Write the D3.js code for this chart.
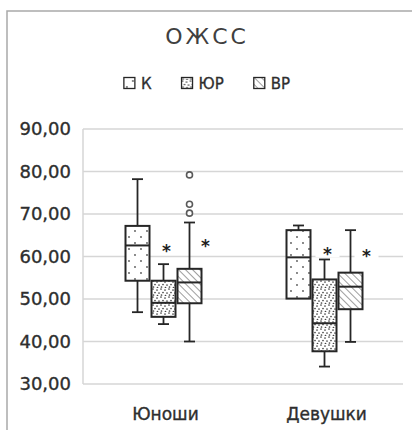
<!DOCTYPE html>
<html>
<head>
<meta charset="utf-8">
<script src="https://cdn.jsdelivr.net/npm/d3@7"></script>
<style>
  html, body { margin: 0; padding: 0; background: #fff; }
  svg { display: block; }
</style>
</head>
<body>
<svg id="chart" width="412" height="430"></svg>
<script>
// ---- data ----
const categories = ["Юноши", "Девушки"];
const series = ["К", "ЮР", "ВР"];
const yTicks = [30, 40, 50, 60, 70, 80, 90];

// five-number summaries, one value per category
const whiskerLow  = { "К": [46.9, 50.1], "ЮР": [44.1, 34.1], "ВР": [40.0, 39.9] };
const quartile1   = { "К": [54.3, 50.1], "ЮР": [45.8, 37.7], "ВР": [49.0, 47.6] };
const medians     = { "К": [62.6, 59.8], "ЮР": [49.1, 44.3], "ВР": [53.9, 52.9] };
const quartile3   = { "К": [67.2, 66.2], "ЮР": [54.3, 54.6], "ВР": [57.1, 56.2] };
const whiskerHigh = { "К": [78.2, 67.3], "ЮР": [58.2, 59.3], "ВР": [68.0, 66.2] };

// outliers (category index, series, value)
const outlierCategory = [0, 0, 0];
const outlierSeries = ["ВР", "ВР", "ВР"];
const outlierValues = [79.2, 72.3, 70.2];

// significance marks
const starSeries = ["ЮР", "ВР"];
const starValues = { "ЮР": [62.2, 61.5], "ВР": [63.5, 61.0] };

const title = "ОЖСС";

// ---- layout ----
const svg = d3.select("#chart");
const plot = { left: 83, right: 405, top: 129, bottom: 384 };
const ink = "#262626";
const textColor = "#2e2e2e";

const y = d3.scaleLinear().domain([30, 90]).range([plot.bottom, plot.top]);
const x = d3.scaleBand().domain(categories).range([plot.left, plot.right]).padding(0);
const xs = d3.scaleBand().domain(series).range([-39, 39]).padding(0);
const boxW = 24;
const capW = 11;
const starShift = { "ЮР": 3, "ВР": 16 };

// ---- patterns ----
const defs = svg.append("defs");

const pK = defs.append("pattern").attr("id", "pat-К")
  .attr("patternUnits", "userSpaceOnUse").attr("width", 12).attr("height", 12);
pK.append("rect").attr("width", 12).attr("height", 12).attr("fill", "#fff");
[[3, 3], [9, 9]].forEach(([cx, cy]) =>
  pK.append("circle").attr("cx", cx).attr("cy", cy).attr("r", 0.9).attr("fill", "#555"));

const pU = defs.append("pattern").attr("id", "pat-ЮР")
  .attr("patternUnits", "userSpaceOnUse").attr("width", 8).attr("height", 8);
pU.append("rect").attr("width", 8).attr("height", 8).attr("fill", "#fff");
[[1, 1], [5, 2], [3, 4.5], [7, 5], [1.5, 7], [5.5, 7.5]].forEach(([cx, cy]) =>
  pU.append("circle").attr("cx", cx).attr("cy", cy).attr("r", 0.85).attr("fill", "#444"));

// diagonal hatch running from upper-left to lower-right
const pV = defs.append("pattern").attr("id", "pat-ВР")
  .attr("patternUnits", "userSpaceOnUse").attr("width", 5).attr("height", 5)
  .attr("patternTransform", "rotate(-45)");
pV.append("rect").attr("width", 5).attr("height", 5).attr("fill", "#fff");
pV.append("line").attr("x1", 0).attr("y1", 0).attr("x2", 0).attr("y2", 5)
  .attr("stroke", "#6a6a6a").attr("stroke-width", 1.3);

// ---- frame ----
svg.append("rect").attr("x", 7).attr("y", 11).attr("width", 440).attr("height", 460)
  .attr("fill", "none").attr("stroke", "#a9a9a9").attr("stroke-width", 1.5);

// ---- title ----
svg.append("text").attr("x", 207).attr("y", 44)
  .attr("text-anchor", "middle")
  .attr("font-family", "DejaVu Sans").attr("font-size", 22)
  .attr("letter-spacing", 3).attr("fill", "#404040")
  .text(title);

// ---- legend ----
const legend = svg.append("g").attr("font-family", "DejaVu Sans").attr("font-size", 15)
  .attr("fill", textColor).attr("stroke", textColor).attr("stroke-width", 0.3);
let lx = 0;
series.forEach(s => {
  const g = legend.append("g").attr("transform", `translate(${lx},0)`);
  g.append("rect").attr("x", 0).attr("y", 77.5).attr("width", 11).attr("height", 11)
    .attr("fill", `url(#pat-${s})`).attr("stroke", ink).attr("stroke-width", 1.3);
  const t = g.append("text").attr("x", 17).attr("y", 88.5).text(s);
  lx += 17 + t.node().getComputedTextLength() + 30;
});
const legendW = lx - 30;
legend.attr("transform", `translate(${207 - legendW / 2},0)`);

// ---- gridlines & axes ----
svg.append("g").selectAll("line").data(yTicks).join("line")
  .attr("x1", plot.left).attr("x2", plot.right - 2)
  .attr("y1", d => y(d)).attr("y2", d => y(d))
  .attr("stroke", "#d6d6d6").attr("stroke-width", 1.5);

svg.append("line").attr("x1", plot.left).attr("x2", plot.left)
  .attr("y1", plot.top).attr("y2", plot.bottom)
  .attr("stroke", "#d6d6d6").attr("stroke-width", 1.5);

const fmt = v => d3.format(".2f")(v).replace(".", ",");
svg.append("g").selectAll("text").data(yTicks).join("text")
  .attr("x", 71).attr("y", d => y(d))
  .attr("dy", "0.36em")
  .attr("text-anchor", "end")
  .attr("font-family", "DejaVu Sans").attr("font-size", 18)
  .attr("fill", textColor).attr("stroke", textColor).attr("stroke-width", 0.35)
  .text(fmt);

svg.append("g").selectAll("text").data(categories).join("text")
  .attr("x", d => x(d) + x.bandwidth() / 2 + 2).attr("y", 419.5)
  .attr("text-anchor", "middle")
  .attr("font-family", "DejaVu Sans").attr("font-size", 17)
  .attr("fill", textColor).attr("stroke", textColor).attr("stroke-width", 0.35)
  .text(d => d);

// ---- white label backgrounds behind the significance marks ----
const stars = [];
categories.forEach((c, ci) => starSeries.forEach(s => stars.push({
  cx: x(c) + x.bandwidth() / 2 + xs(s) + xs.bandwidth() / 2 + starShift[s],
  cy: y(starValues[s][ci])
})));
svg.append("g").selectAll("rect").data(stars).join("rect")
  .attr("x", d => d.cx - 12).attr("y", d => d.cy - 7)
  .attr("width", 24).attr("height", 14).attr("fill", "#fff");

// ---- boxes ----
const boxes = [];
categories.forEach((c, ci) => series.forEach(s => boxes.push({
  s,
  cx: x(c) + x.bandwidth() / 2 + xs(s) + xs.bandwidth() / 2,
  lo: whiskerLow[s][ci], q1: quartile1[s][ci], md: medians[s][ci],
  q3: quartile3[s][ci], hi: whiskerHigh[s][ci]
})));

const gb = svg.append("g");
boxes.forEach(b => {
  const g = gb.append("g");
  // whiskers
  [[b.q3, b.hi], [b.q1, b.lo]].forEach(([from, to]) => {
    if (Math.abs(from - to) < 0.01) return;
    g.append("line").attr("x1", b.cx).attr("x2", b.cx)
      .attr("y1", y(from)).attr("y2", y(to))
      .attr("stroke", ink).attr("stroke-width", 1.8);
    g.append("line").attr("x1", b.cx - capW / 2).attr("x2", b.cx + capW / 2)
      .attr("y1", y(to)).attr("y2", y(to))
      .attr("stroke", ink).attr("stroke-width", 1.8);
  });
  // box
  g.append("rect")
    .attr("x", b.cx - boxW / 2).attr("y", y(b.q3))
    .attr("width", boxW).attr("height", y(b.q1) - y(b.q3))
    .attr("fill", `url(#pat-${b.s})`)
    .attr("stroke", ink).attr("stroke-width", 2);
  // median
  g.append("line").attr("x1", b.cx - boxW / 2).attr("x2", b.cx + boxW / 2)
    .attr("y1", y(b.md)).attr("y2", y(b.md))
    .attr("stroke", ink).attr("stroke-width", 2);
});

// ---- outliers ----
svg.append("g").selectAll("circle").data(outlierValues).join("circle")
  .attr("cx", (v, i) => x(categories[outlierCategory[i]]) + x.bandwidth() / 2
    + xs(outlierSeries[i]) + xs.bandwidth() / 2)
  .attr("cy", v => y(v))
  .attr("r", 3)
  .attr("fill", "#fff").attr("stroke", "#5a5a5a").attr("stroke-width", 1.6);

// ---- significance marks ----
svg.append("g").selectAll("text").data(stars).join("text")
  .attr("x", d => d.cx).attr("y", d => d.cy + 10)
  .attr("text-anchor", "middle")
  .attr("font-family", "DejaVu Sans").attr("font-weight", "bold")
  .attr("font-size", 17).attr("fill", "#1e1e1e")
  .text("*");
</script>
</body>
</html>
